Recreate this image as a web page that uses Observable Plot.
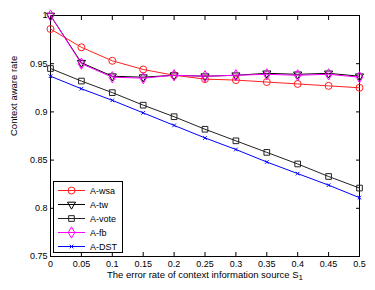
<!DOCTYPE html>
<html><head><meta charset="utf-8">
<script src="https://cdn.jsdelivr.net/npm/d3@7"></script>
<script src="https://cdn.jsdelivr.net/npm/@observablehq/plot@0.6"></script>
<style>body{margin:0;background:#fff}</style>
</head><body><div id="chart"></div>
<script>
const xs = [0, 0.05, 0.1, 0.15, 0.2, 0.25, 0.3, 0.35, 0.4, 0.45, 0.5];
const wsa  = [0.986, 0.967, 0.953, 0.944, 0.938, 0.934, 0.933, 0.931, 0.929, 0.927, 0.925];
const tw   = [1.000, 0.951, 0.937, 0.936, 0.938, 0.937, 0.938, 0.940, 0.939, 0.940, 0.937];
const vote = [0.945, 0.932, 0.920, 0.907, 0.895, 0.882, 0.870, 0.858, 0.846, 0.833, 0.821];
const fb   = [1.000, 0.950, 0.936, 0.935, 0.938, 0.937, 0.938, 0.939, 0.938, 0.939, 0.936];
const dst  = [0.937, 0.924, 0.912, 0.899, 0.886, 0.873, 0.861, 0.848, 0.836, 0.824, 0.811];
const seriesNames = ["A-wsa", "A-tw", "A-vote", "A-fb", "A-DST"];
const xTicks = [0, 0.05, 0.1, 0.15, 0.2, 0.25, 0.3, 0.35, 0.4, 0.45, 0.5];
const yTicks = [0.75, 0.8, 0.85, 0.9, 0.95, 1];
const xLabel = "The error rate of context information source S";
const xLabelSub = "1";
const yLabel = "Context aware rate";

const triDown = {
  draw(ctx, size) {
    const y = Math.sqrt(size / (3 * Math.sqrt(3)));
    ctx.moveTo(0, 2 * y);
    ctx.lineTo(-Math.sqrt(3) * y, -y);
    ctx.lineTo(Math.sqrt(3) * y, -y);
    ctx.closePath();
  }
};
const styles = [
  {color: "#ff2020", symbol: d3.symbolCircle, r: 3.5},
  {color: "#000000", symbol: triDown, r: 3.0},
  {color: "#222222", symbol: d3.symbolSquare, r: 3.2},
  {color: "#ff00ff", symbol: d3.symbolDiamond, r: 3.4},
  {color: "#0000ff", symbol: d3.symbolTimes, r: 1.8}
];
const allSeries = [wsa, tw, vote, fb, dst];
const rows = allSeries.map((vals, i) => xs.map((x, j) => ({x, y: vals[j], s: seriesNames[i]})));

const font = "'Liberation Sans', Arial, Helvetica, sans-serif";
const M = {left: 50, right: 16, top: 15, bottom: 34};

function legendMark() {
  const g = d3.create("svg:g").attr("text-anchor", "start");
  const x0 = 53, y0 = 181, w = 69, h = 71;
  g.append("rect").attr("x", x0 + 0.5).attr("y", y0 + 0.5).attr("width", w).attr("height", h)
    .attr("fill", "white").attr("stroke", "black").attr("stroke-width", 1);
  seriesNames.forEach((name, i) => {
    const cy = y0 + 9.5 + i * 14;
    const st = styles[i];
    g.append("line").attr("x1", 58).attr("x2", 85).attr("y1", cy).attr("y2", cy)
      .attr("stroke", st.color).attr("stroke-width", 1);
    g.append("path").attr("transform", `translate(71.5,${cy})`)
      .attr("d", d3.symbol(st.symbol, Math.PI * st.r * st.r)())
      .attr("fill", "none").attr("stroke", st.color).attr("stroke-width", 1);
    g.append("text").attr("x", 90).attr("y", cy).attr("dy", "0.35em")
      .attr("text-anchor", "start")
      .attr("font-size", 9).attr("fill", "black").text(name);
  });
  return g.node();
}

const marks = [
  Plot.frame({stroke: "black", strokeWidth: 1}),
  Plot.axisX({ticks: xTicks, anchor: "bottom", tickSize: -4, tickPadding: 8, tickFormat: d => String(d), label: null, fontSize: 9}),
  Plot.axisX({ticks: xTicks, anchor: "top", tickSize: -4, tickFormat: () => "", label: null}),
  Plot.axisY({ticks: yTicks, anchor: "left", tickSize: -4, tickPadding: 7, tickFormat: d => String(d), label: null, fontSize: 9}),
  Plot.axisY({ticks: yTicks, anchor: "right", tickSize: -4, tickFormat: () => "", label: null}),
];
rows.forEach((data, i) => {
  const st = styles[i];
  marks.push(Plot.line(data, {x: "x", y: "y", stroke: st.color, strokeWidth: 1}));
  marks.push(Plot.dot(data, {x: "x", y: "y", stroke: st.color, symbol: () => st.symbol, r: st.r, strokeWidth: 1, fill: "none"}));
});
marks.push(Plot.text([xLabel], {frameAnchor: "bottom", dy: 21, text: d => d, fontSize: 9.5, fill: "black"}));
marks.push(Plot.text([yLabel], {frameAnchor: "left", dx: -37, rotate: -90, text: d => d, fontSize: 9.5, fill: "black"}));
marks.push(legendMark);

const chart = Plot.plot({
  width: 375, height: 290,
  marginLeft: M.left, marginRight: M.right, marginTop: M.top, marginBottom: M.bottom,
  x: {domain: [0, 0.5]},
  y: {domain: [0.75, 1]},
  symbol: {type: "identity"},
  style: {fontFamily: font, fontSize: "9px", background: "white", color: "black", overflow: "visible"},
  marks
});
document.getElementById("chart").appendChild(chart);

d3.select(chart).selectAll("text").each(function() {
  if (this.textContent === xLabel) {
    d3.select(this).append("tspan").attr("dy", "0.35em").attr("font-size", 8).text(xLabelSub);
  }
});
</script>
</body></html>
